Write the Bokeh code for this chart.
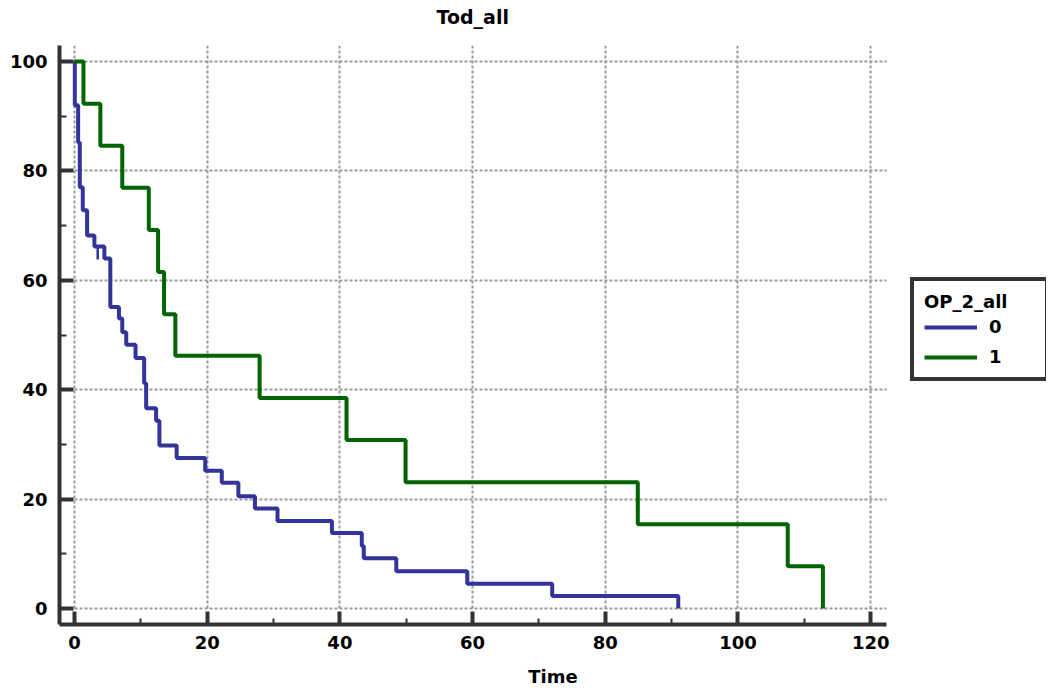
from bokeh.plotting import figure
from bokeh.models import Range1d, FixedTicker, Legend, LegendItem, Title
from bokeh.embed import file_html
from bokeh.resources import INLINE

# ---- data ----
title_text = "Tod_all"
x_label = "Time"
legend_title = "OP_2_all"
group_labels = ["0", "1"]

time_0 = [0, 0.05, 0.55, 0.8, 1.25, 1.9, 3.0, 4.5, 5.4, 6.7, 7.2, 7.8, 9.2, 10.5, 10.8,
          12.3, 12.8, 15.4, 19.7, 22.2, 24.7, 27.2, 30.6, 38.8, 43.3, 43.6, 48.5, 59.2,
          72.0, 91.0]
surv_0 = [100, 92.0, 85.2, 77.0, 72.8, 68.2, 66.2, 64.0, 55.1, 53.0, 50.5, 48.2, 45.8,
          41.2, 36.6, 34.3, 29.8, 27.5, 25.2, 23.0, 20.5, 18.3, 16.0, 13.8, 11.4, 9.2,
          6.8, 4.5, 2.3, 0]
cens_time_0 = [3.5]
cens_surv_0 = [66.2]

time_1 = [0, 1.35, 3.9, 7.2, 11.2, 12.6, 13.5, 15.2, 27.9, 41.0, 49.9, 84.9, 107.5, 112.8]
surv_1 = [100, 92.3, 84.6, 76.9, 69.2, 61.5, 53.8, 46.2, 38.5, 30.8, 23.1, 15.4, 7.7, 0]

x_ticks = [0, 20, 40, 60, 80, 100, 120]
x_minor = [10, 30, 50, 70, 90, 110]
y_ticks = [0, 20, 40, 60, 80, 100]
y_minor = [10, 30, 50, 70, 90]

BLUE = "#33339c"
GREEN = "#006400"
AXC = "#333333"
FONT = "DejaVu Sans"

X0, X1_AXIS, X1_FRAME = -2.26, 122.4, 146.5
Y0, Y1 = -2.93, 102.93

p = figure(width=1046, height=689, output_backend="svg", toolbar_location=None,
           x_range=Range1d(X0, X1_FRAME), y_range=Range1d(Y0, Y1),
           min_border_left=59, min_border_right=0,
           min_border_top=45, min_border_bottom=0)
try:
    p.title = None
except Exception:
    pass
p.outline_line_color = None
p.background_fill_color = "white"
p.border_fill_color = "white"

# spacer between the frame and the title (first item = closest to the frame)
p.add_layout(Title(text=" ", text_font_size="14px", standoff=0), "above")
p.add_layout(Title(text=title_text, align="left", offset=377, standoff=0,
                   text_font=FONT, text_font_size="19px", text_font_style="bold",
                   text_color="black"), "above")

p.xaxis.ticker = FixedTicker(ticks=x_ticks, minor_ticks=x_minor)
p.yaxis.ticker = FixedTicker(ticks=y_ticks, minor_ticks=y_minor)
p.xaxis.bounds = (X0, X1_AXIS)
for ax in (p.xaxis, p.yaxis):
    ax.axis_line_width = 4
    ax.axis_line_color = AXC
    ax.major_tick_line_width = 4
    ax.major_tick_line_color = AXC
    ax.minor_tick_line_width = 2
    ax.minor_tick_line_color = AXC
    ax.major_tick_out = 0
    ax.minor_tick_out = 0
    ax.major_label_text_font = FONT
    ax.major_label_text_font_size = "18px"
    ax.major_label_text_font_style = "bold"
    ax.major_label_text_color = "black"
p.xaxis.major_tick_in = 13
p.xaxis.minor_tick_in = 6
p.yaxis.major_tick_in = 14
p.yaxis.minor_tick_in = 7
p.yaxis.major_label_standoff = 12
p.xaxis.major_label_standoff = 11
p.xaxis.axis_label = x_label
p.xaxis.axis_label_text_font = FONT
p.xaxis.axis_label_text_font_size = "18px"
p.xaxis.axis_label_text_font_style = "bold"
p.xaxis.axis_label_text_color = "black"
p.xaxis.axis_label_standoff = 14

p.xgrid.ticker = FixedTicker(ticks=x_ticks)
p.ygrid.ticker = FixedTicker(ticks=y_ticks)
for g in (p.xgrid, p.ygrid):
    g.grid_line_color = "#9a9a9a"
    g.grid_line_width = 2
    g.grid_line_dash = "3 2"
try:
    p.xgrid.cross_bounds = (0, Y1)
    p.ygrid.cross_bounds = (0, X1_AXIS)
except Exception:
    pass

r0 = p.step(time_0, surv_0, mode="after", line_color=BLUE, line_width=4)
p.segment(x0=cens_time_0, y0=cens_surv_0, x1=cens_time_0,
          y1=[v - 2.4 for v in cens_surv_0], line_color=BLUE, line_width=2.5)
r1 = p.step(time_1, surv_1, mode="after", line_color=GREEN, line_width=4)

legend = Legend(items=[LegendItem(label=group_labels[0], renderers=[r0]),
                       LegendItem(label=group_labels[1], renderers=[r1])],
                location=(851, 243), margin=0)
legend.title = legend_title
legend.title_text_font = FONT
legend.title_text_font_size = "18px"
legend.title_text_font_style = "bold"
legend.title_text_color = "black"
legend.title_standoff = 4
legend.label_text_font = FONT
legend.label_text_font_size = "18px"
legend.label_text_font_style = "bold"
legend.label_text_color = "black"
legend.border_line_color = AXC
legend.border_line_alpha = 1.0
legend.border_line_width = 4
legend.background_fill_color = "white"
legend.padding = 10
legend.spacing = 9
legend.glyph_width = 53
legend.glyph_height = 20
legend.label_height = 20
legend.label_standoff = 12
legend.label_width = 46
p.add_layout(legend, "center")

open("out.html", "w").write(file_html(p, INLINE))
